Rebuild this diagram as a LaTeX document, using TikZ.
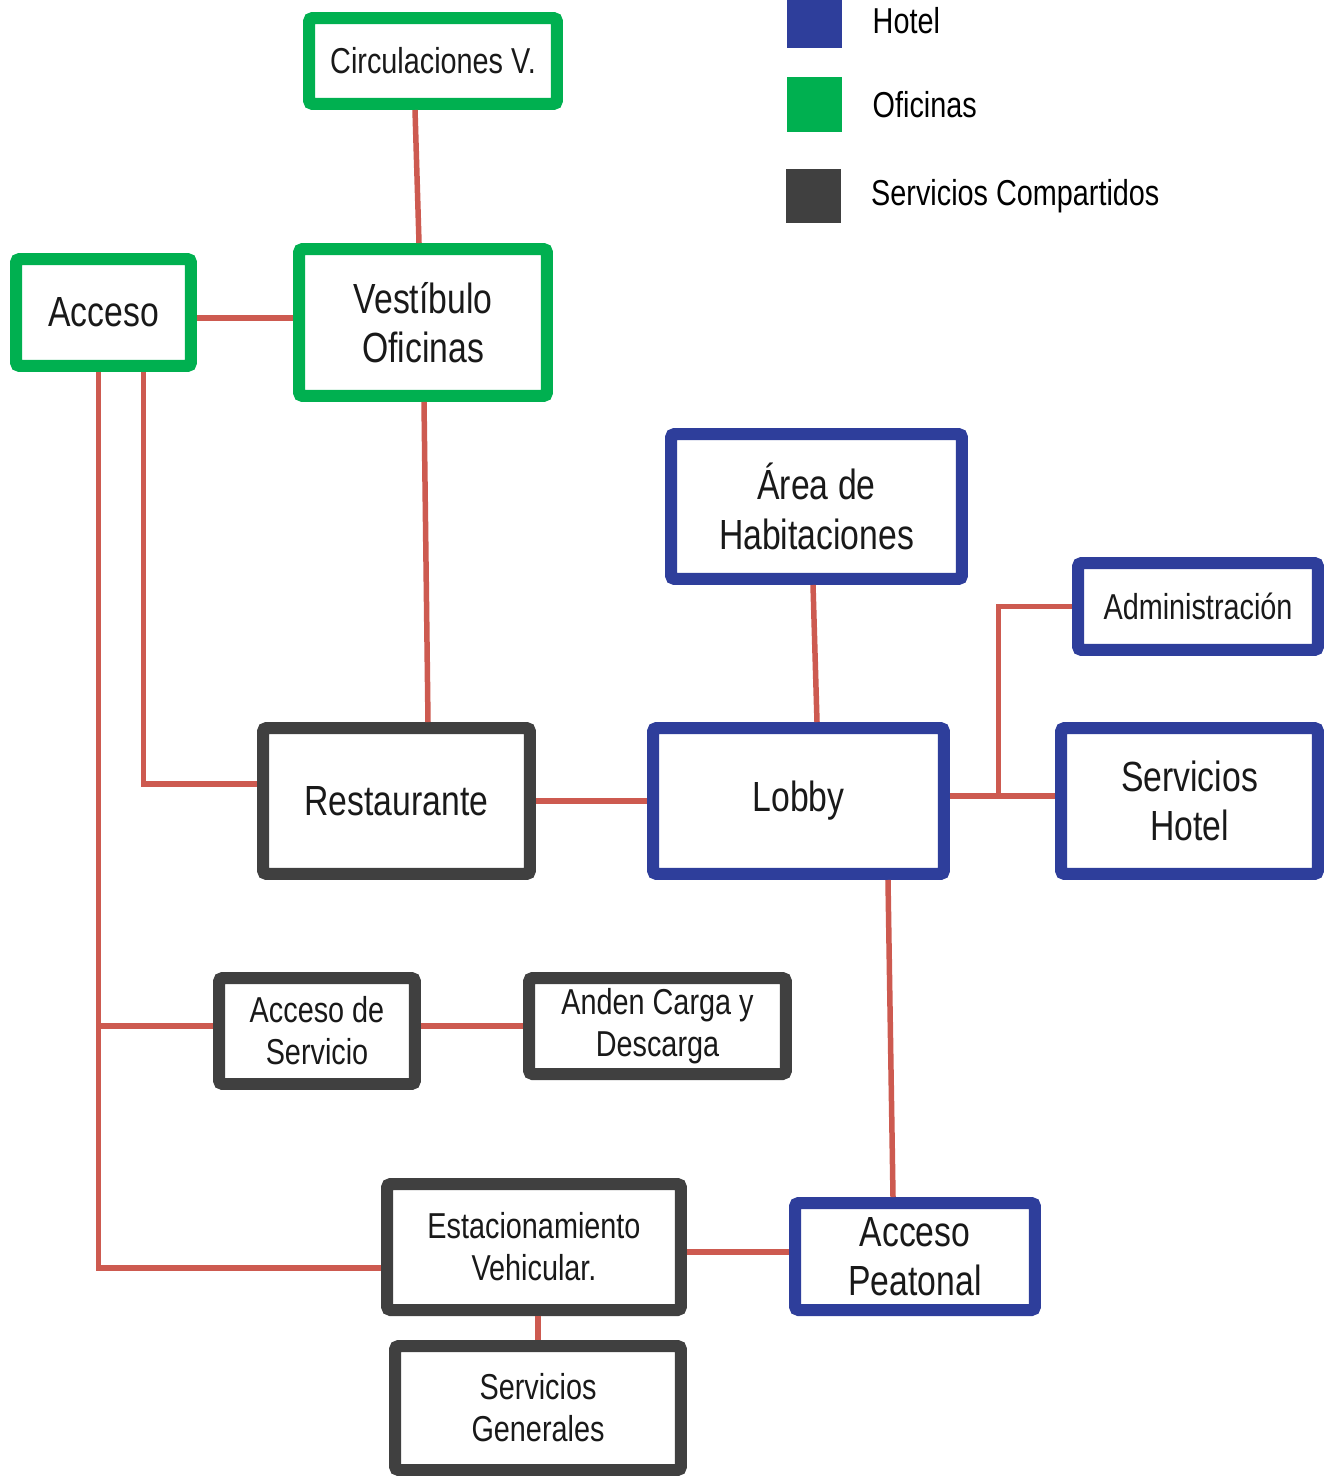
\documentclass[tikz,border=0pt]{standalone}
\usepackage{fontspec}
\setmainfont[FakeStretch=0.8]{Liberation Sans}
\usetikzlibrary{positioning}
\definecolor{azulhotel}{RGB}{46,62,155}
\definecolor{verdeofi}{RGB}{0,176,80}
\definecolor{grisserv}{RGB}{64,64,64}
\definecolor{rojoliga}{RGB}{205,90,80}

\begin{document}
\begin{tikzpicture}[x=0.02cm,y=-0.02cm,
    caja/.style={draw,line width=0.24cm,rounded corners=2pt,fill=white,align=center,inner sep=0pt,text=black!90},
    grande/.style={font=\fontsize{24}{28}\selectfont},
    chica/.style={font=\fontsize{20.5}{24}\selectfont},
    hotel/.style={caja,draw=azulhotel},
    ofi/.style={caja,draw=verdeofi},
    comp/.style={caja,draw=grisserv},
    sz/.style 2 args={minimum width=#1cm,minimum height=#2cm},
    liga/.style={draw=rojoliga,line width=0.11cm},
    muestra/.style={minimum size=1.1cm,inner sep=0pt}]
  \useasboundingbox (0,0) rectangle (1326,1476);

  % leyenda
  \node[muestra,fill=azulhotel] (lhotel) at (814.5,20.5) {};
  \node[muestra,fill=verdeofi] (lofi) at (814.5,104.5) {};
  \node[muestra,fill=grisserv] (lcomp) at (813,196) {};
  \node[chica,inner sep=0pt,right=0.6cm of lhotel] (thotel) {Hotel};
  \node[chica,inner sep=0pt,right=0.6cm of lofi] (tofi) {Oficinas};
  \node[chica,inner sep=0pt,right=0.6cm of lcomp] (tcomp) {Servicios Compartidos};

  % oficinas
  \node[ofi,chica,sz={4.96}{1.72}] (circ) at (433,61) {Circulaciones V.};
  \node[ofi,grande,sz={4.96}{2.94}] (vest) at (423,322.5) {Vestíbulo\\Oficinas};
  \node[ofi,grande,sz={3.5}{2.14}] (acc) at (103.5,312.5) {Acceso};

  % hotel
  \node[hotel,grande,sz={5.82}{2.9}] (area) at (816.5,506.5) {Área de\\Habitaciones};
  \node[hotel,chica,sz={4.8}{1.74}] (admin) at (1198,606.5) {Administración};
  \node[hotel,grande,sz={5.82}{2.92}] (lobby) at (798.5,801) {Lobby};
  \node[hotel,grande,sz={5.14}{2.92}] (servh) at (1189.5,801) {Servicios\\Hotel};
  \node[hotel,grande,sz={4.8}{2.14}] (peat) at (915,1256.5) {Acceso\\Peatonal};

  % servicios compartidos
  \node[comp,grande,sz={5.34}{2.92}] (rest) at (396.5,801) {Restaurante};
  \node[comp,chica,sz={3.92}{2.12}] (accserv) at (317,1031) {Acceso de\\Servicio};
  \node[comp,chica,sz={5.14}{1.92}] (anden) at (657.5,1026) {Anden Carga y\\Descarga};
  \node[comp,chica,sz={5.88}{2.52}] (estac) at (534,1247) {Estacionamiento\\Vehicular.};
  \node[comp,chica,sz={5.72}{2.48}] (sgen) at (538,1408) {Servicios\\Generales};

  % conexiones
  \draw[liga] ([xshift=-0.36cm]circ.south) -- ([xshift=-0.08cm]vest.north);
  \draw[liga] ([yshift=-0.11cm]acc.east) -- ([yshift=-0.11cm]acc.east -| vest.west);
  \draw[liga] ([xshift=0.02cm]vest.south) -- ([xshift=0.63cm]rest.north);
  \coordinate (troncal) at ([xshift=-0.1cm]acc.south);
  \draw[liga] (troncal) |- ([yshift=-0.42cm]estac.west);
  \draw[liga] (troncal |- anden.west) -- (troncal |- anden.west -| accserv.west);
  \draw[liga] ([xshift=0.8cm]acc.south) |- ([yshift=0.34cm]rest.west);
  \draw[liga] (anden.west -| accserv.east) -- (anden.west);
  \draw[liga] (rest.east) -- (lobby.west);
  \draw[liga] ([xshift=-0.07cm]area.south) -- ([xshift=0.37cm]lobby.north);
  \draw[liga] ([yshift=0.1cm]lobby.east) -- coordinate[pos=0.46] (nudo) ([yshift=0.1cm]servh.west);
  \draw[liga] (nudo) |- (admin.west);
  \draw[liga] ([xshift=1.79cm]lobby.south) -- ([xshift=-0.44cm]peat.north);
  \draw[liga] ([yshift=-0.1cm]estac.east) -- ([yshift=-0.1cm]estac.east -| peat.west);
  \draw[liga] (sgen.north |- estac.south) -- (sgen.north);
\end{tikzpicture}
\end{document}
